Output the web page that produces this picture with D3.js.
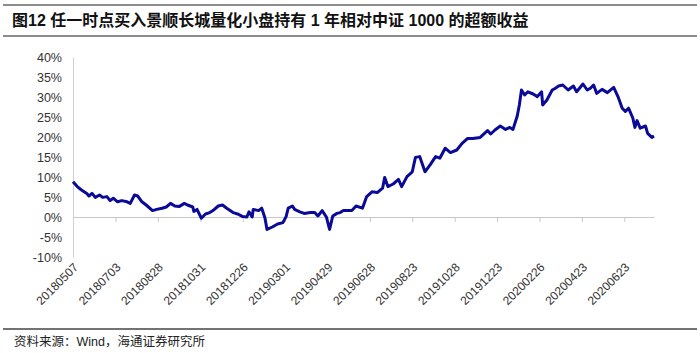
<!DOCTYPE html>
<html>
<head>
<meta charset="utf-8">
<script src="https://cdn.jsdelivr.net/npm/d3@7"></script>
<style>
  body { margin: 0; background: #fff; }
  svg { display: block; font-family: "Liberation Sans", Arial, sans-serif; }
  .axis-lbl { font-size: 12.5px; fill: #333; }
  .date-lbl { font-size: 12px; fill: #333; }
</style>
</head>
<body>
<div id="chart"></div>
<script>
// trading-day offset from 20180507, and excess return (%) vs CSI 1000
const dayIndex = [
  0, 4, 8, 13, 15, 18, 21, 25, 28, 32, 35, 38, 42, 46, 51, 54, 58, 61, 65, 69,
  75, 79, 84, 88, 92, 96, 100, 105, 108, 113, 114, 117, 121, 125, 129, 132, 137, 141, 145, 151,
  156, 160, 164, 166, 169, 170, 175, 178, 181, 183, 188, 193, 198, 201, 203, 207, 209, 214, 218, 224,
  228, 231, 235, 239, 242, 245, 249, 252, 255, 259, 263, 267, 273, 277, 282, 287, 292, 294, 297, 302,
  307, 310, 315, 320, 323, 327, 332, 337, 342, 346, 351, 356, 362, 367, 372, 377, 384, 391, 394, 398,
  403, 408, 412, 415, 419, 421, 423, 426, 429, 434, 438, 442, 443, 447, 452, 455, 458, 462, 467, 472,
  475, 481, 485, 488, 491, 494, 499, 504, 510, 514, 518, 521, 524, 528, 530, 532, 535, 540, 542, 546,
  548
];
const excess = [
  8.8, 7.6, 6.75, 5.9, 5.25, 5.9, 4.9, 5.5, 4.9, 5.1, 4.1, 4.7, 3.8, 4.1, 3.8, 3.4, 5.5, 5.25, 3.8, 3.0,
  1.6, 1.9, 2.2, 2.5, 3.4, 2.75, 2.6, 3.4, 3.0, 2.5, 1.4, 1.9, -0.3, 0.75, 1.1, 1.6, 2.75, 3.0, 2.2, 1.1,
  0.7, 0.1, 0, 1.3, 0, 1.9, 1.6, 2.2, -0.2, -3.1, -2.5, -1.75, -1.4, 0.1, 2.2, 2.75, 1.9, 1.3, 0.9, 1.1,
  1.1, 0.25, 1.6, 0, -3.1, 0.25, 0.9, 1.1, 1.6, 1.6, 1.6, 2.75, 2.2, 5.1, 6.3, 6.1, 7.2, 9.9, 7.6, 8.25,
  9.4, 7.6, 10.1, 11.3, 14.9, 15.1, 11.3, 13.1, 15.1, 14.7, 17.2, 16.1, 16.75, 18.4, 19.6, 19.6, 19.9, 21.6, 20.75, 21.75,
  22.75, 21.9, 22.4, 21.9, 25.25, 28, 31.75, 30.5, 31.3, 30.75, 30.1, 31.3, 28, 29.25, 31.75, 32.2, 32.75, 33, 31.75, 32.75,
  31.3, 33.25, 31.75, 32.2, 33, 30.9, 31.9, 31.1, 32.4, 30.1, 27.2, 26.4, 27.2, 24.75, 22.4, 24.1, 22.2, 22.75, 20.9, 19.9,
  20.25
];
// category labels, one every 40 trading days
const dateLabels = [
  '20180507', '20180703', '20180828', '20181031', '20181226', '20190301', '20190429',
  '20190628', '20190823', '20191028', '20191223', '20200226', '20200423', '20200623'
];
const labelStep = 40;
const lastDay = 548;
const yTicks = [-10, -5, 0, 5, 10, 15, 20, 25, 30, 35, 40];

const W = 700, H = 353;
const margin = { top: 57, left: 73, right: 46, bottom: 96 };

const svg = d3.select('#chart').append('svg')
  .attr('width', W)
  .attr('height', H);

// header / footer rules
svg.append('line').attr('x1', 3).attr('x2', 697).attr('y1', 5).attr('y2', 5)
  .attr('stroke', '#8c8c8c').attr('stroke-width', 2);
svg.append('line').attr('x1', 3).attr('x2', 697).attr('y1', 36).attr('y2', 36)
  .attr('stroke', '#8c8c8c').attr('stroke-width', 2);
svg.append('line').attr('x1', 3).attr('x2', 697).attr('y1', 329).attr('y2', 329)
  .attr('stroke', '#444').attr('stroke-width', 1.5);

svg.append('text')
  .attr('x', 12).attr('y', 26)
  .style('font-family', '"Liberation Sans", "Noto Sans CJK SC", sans-serif')
  .style('font-size', '16px')
  .style('font-weight', 'bold')
  .attr('fill', '#111')
  .text('图12 任一时点买入景顺长城量化小盘持有 1 年相对中证 1000 的超额收益');

svg.append('text')
  .attr('x', 14).attr('y', 346)
  .style('font-family', '"Liberation Sans", "Noto Sans CJK SC", sans-serif')
  .style('font-size', '12.5px')
  .attr('fill', '#222')
  .text('资料来源：Wind，海通证券研究所');

const x = d3.scaleLinear().domain([0, lastDay]).range([margin.left, W - margin.right]);
const y = d3.scaleLinear().domain([-10, 40]).range([H - margin.bottom, margin.top]);

// y axis
const yAxis = d3.axisLeft(y)
  .tickValues(yTicks)
  .tickSize(0)
  .tickPadding(11)
  .tickFormat((d) => `${d}%`);

const gy = svg.append('g')
  .attr('transform', `translate(${margin.left},0)`)
  .call(yAxis);
gy.select('.domain').attr('stroke', '#d0d0d0');
gy.selectAll('text').attr('class', 'axis-lbl').attr('font-family', null).attr('font-size', null);

// zero line with category ticks
const tickDays = d3.range(labelStep, lastDay, labelStep);
const xAxis = d3.axisBottom(x)
  .tickValues(tickDays)
  .tickSize(5)
  .tickSizeOuter(0)
  .tickFormat('');
const gx = svg.append('g')
  .attr('transform', `translate(0,${y(0)})`)
  .call(xAxis);
gx.select('.domain').attr('stroke', '#c8c8c8');
gx.selectAll('.tick line').attr('stroke', '#c8c8c8');

// rotated date labels
svg.append('g')
  .selectAll('text')
  .data(dateLabels)
  .join('text')
  .attr('class', 'date-lbl')
  .attr('text-anchor', 'end')
  .attr('transform', (d, i) => `translate(${x(i * labelStep) + 6},${H - margin.bottom + 11}) rotate(-45)`)
  .text((d) => d);

// excess return line
const series = dayIndex.map((d, i) => ({ day: d, v: excess[i] }));
const line = d3.line()
  .x((d) => x(d.day))
  .y((d) => y(d.v));

svg.append('path')
  .datum(series)
  .attr('fill', 'none')
  .attr('stroke', '#0a0a96')
  .attr('stroke-width', 3)
  .attr('stroke-linejoin', 'round')
  .attr('d', line);
</script>
</body>
</html>
